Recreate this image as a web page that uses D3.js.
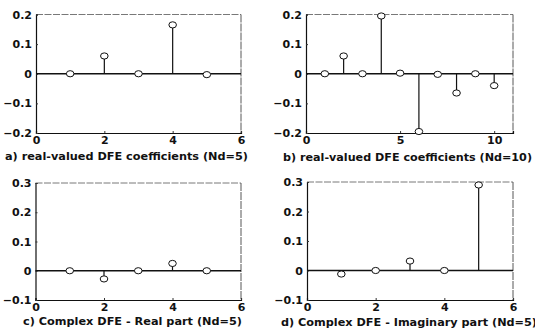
<!DOCTYPE html>
<html>
<head>
<meta charset="utf-8">
<script src="https://cdn.jsdelivr.net/npm/d3@7.9.0/dist/d3.min.js"></script>
<style>
  html, body { margin: 0; padding: 0; background: #fff; }
  svg { display: block; }
  text { font-family: "DejaVu Sans", "Liberation Sans", sans-serif; font-weight: bold; fill: #111; }
</style>
</head>
<body>
<svg id="chart" width="535" height="333"></svg>
<script>
// coefficient values
const tapsA = [1, 2, 3, 4, 5];
const coefA = [0, 0.06, 0, 0.165, -0.003];
const tapsB = [1, 2, 3, 4, 5, 6, 7, 8, 9, 10];
const coefB = [0, 0.06, 0, 0.195, 0.002, -0.195, -0.002, -0.065, 0, -0.04];
const tapsC = [1, 2, 3, 4, 5];
const coefC = [0, -0.028, 0, 0.025, 0];
const tapsD = [1, 2, 3, 4, 5];
const coefD = [-0.012, 0, 0.032, 0, 0.29];

const xTicks5 = [0, 2, 4, 6];
const xTicks10 = [0, 5, 10];
const yTicksAB = [-0.2, -0.1, 0, 0.1, 0.2];
const yTicksCD = [-0.1, 0, 0.1, 0.2, 0.3];

const captions = [
  'a) real-valued DFE coefficients (Nd=5)',
  'b) real-valued DFE coefficients (Nd=10)',
  'c) Complex DFE - Real part (Nd=5)',
  'd) Complex DFE - Imaginary part (Nd=5)'
];

const panels = [
  { box: [36, 14.5, 241, 133], taps: tapsA, vals: coefA, xd: [0, 6], yd: [-0.2, 0.2], xt: xTicks5, yt: yTicksAB,
    cap: captions[0], capAt: [5, 160, 243] },
  { box: [306, 14.5, 513, 133], taps: tapsB, vals: coefB, xd: [0, 11], yd: [-0.2, 0.2], xt: xTicks10, yt: yTicksAB,
    cap: captions[1], capAt: [283, 161, 249] },
  { box: [35.5, 183, 241, 300], taps: tapsC, vals: coefC, xd: [0, 6], yd: [-0.1, 0.3], xt: xTicks5, yt: yTicksCD,
    cap: captions[2], capAt: [23, 325, 219] },
  { box: [307, 182, 513, 300], taps: tapsD, vals: coefD, xd: [0, 6], yd: [-0.1, 0.3], xt: xTicks5, yt: yTicksCD,
    cap: captions[3], capAt: [281, 326, 256] }
];

const svg = d3.select('#chart');
const fmt = d => d === 0 ? '0' : d3.format('.1f')(d);

panels.forEach(p => {
  const [x0, y0, x1, y1] = p.box;
  const x = d3.scaleLinear().domain(p.xd).range([x0, x1]);
  const y = d3.scaleLinear().domain(p.yd).range([y1, y0]);
  const g = svg.append('g');

  // frame: top/right faint like a scan
  g.append('line').attr('x1', x0).attr('x2', x1).attr('y1', y0).attr('y2', y0)
    .attr('stroke', '#555').attr('stroke-width', 0.8).attr('stroke-dasharray', '7,1.5');
  g.append('line').attr('x1', x1).attr('x2', x1).attr('y1', y0).attr('y2', y1)
    .attr('stroke', '#444').attr('stroke-width', 0.9).attr('stroke-dasharray', '8,1');

  // axes with inward ticks
  g.append('g').attr('transform', `translate(0,${y1})`)
    .call(d3.axisBottom(x).tickValues(p.xt).tickSize(-2).tickPadding(3).tickFormat(d3.format('d')))
    .call(a => a.select('.domain').attr('stroke', '#111').attr('stroke-width', 1.2))
    .call(a => a.selectAll('.tick line').attr('stroke', '#333'))
    .call(a => a.selectAll('text').attr('font-size', 11).attr('fill', '#111').attr('font-family', null));
  g.append('g').attr('transform', `translate(${x0},0)`)
    .call(d3.axisLeft(y).tickValues(p.yt).tickSize(-2).tickPadding(4).tickFormat(fmt))
    .call(a => a.select('.domain').attr('stroke', '#111').attr('stroke-width', 1.2))
    .call(a => a.selectAll('.tick line').attr('stroke', '#333'))
    .call(a => a.selectAll('text').attr('font-size', 11).attr('fill', '#111').attr('font-family', null));

  // zero baseline
  g.append('line').attr('x1', x0).attr('x2', x1).attr('y1', y(0)).attr('y2', y(0))
    .attr('stroke', '#111').attr('stroke-width', 1.3);

  const pts = p.taps.map((t, i) => ({ t, v: p.vals[i] }));
  g.selectAll('line.stem').data(pts).join('line').attr('class', 'stem')
    .attr('x1', d => x(d.t)).attr('x2', d => x(d.t))
    .attr('y1', y(0)).attr('y2', d => y(d.v))
    .attr('stroke', '#111').attr('stroke-width', 1.2);
  g.selectAll('ellipse').data(pts).join('ellipse')
    .attr('cx', d => x(d.t)).attr('cy', d => y(d.v))
    .attr('rx', 3.8).attr('ry', 3.1)
    .attr('fill', '#fff').attr('stroke', '#111').attr('stroke-width', 1);

  const [cx, cy, cw] = p.capAt;
  g.append('text').attr('x', cx).attr('y', cy)
    .attr('font-size', 10.5)
    .attr('textLength', cw).attr('lengthAdjust', 'spacingAndGlyphs')
    .text(p.cap);
});
</script>
</body>
</html>
